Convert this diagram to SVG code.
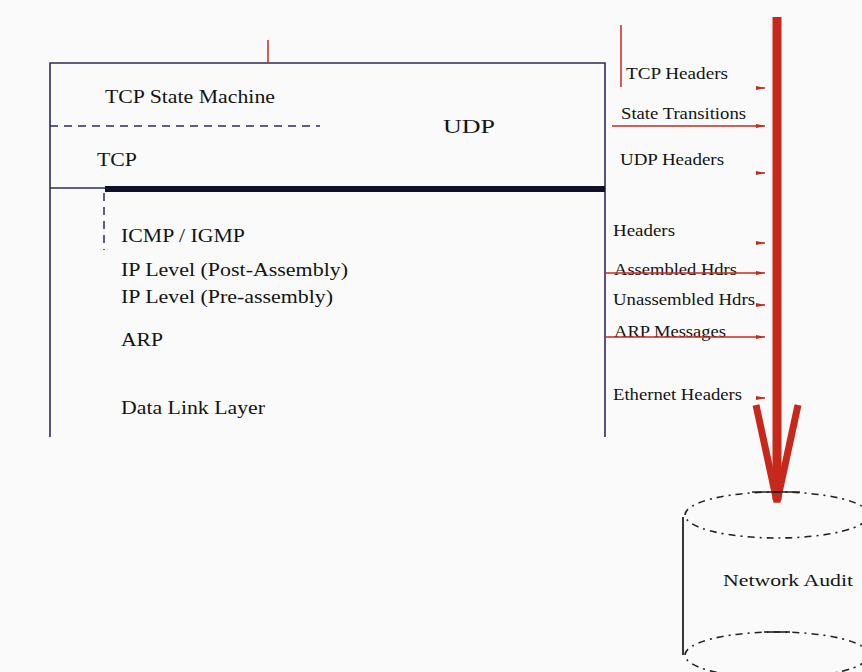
<svg xmlns="http://www.w3.org/2000/svg" width="862" height="672" viewBox="0 0 862 672">
<style>
.box{fill:none;stroke:#2c2c5c;stroke-width:1.6}
.lt{font-family:"Liberation Serif","Times New Roman",serif;font-size:19px;fill:#141414}
.rt{font-family:"Liberation Serif","Times New Roman",serif;font-size:16px;fill:#141414}
.red{stroke:#c8281c;fill:none}
.dash{stroke:#2c2c5c;stroke-width:1.5;stroke-dasharray:8 6;fill:none}
.cyl{fill:none;stroke:#222;stroke-width:1.6;stroke-dasharray:2 5 7 5}
</style>
<defs>
<marker id="tip" markerWidth="10" markerHeight="6" refX="9" refY="3" orient="auto" markerUnits="userSpaceOnUse">
<polygon points="0,1 9,3 0,5" fill="#c8281c"/>
</marker>
</defs>
<rect width="862" height="672" fill="#f9faf9"/>
<g id="stack">
<path class="box" d="M50,437 V63 H605 V437"/>
<line x1="50" y1="188" x2="105" y2="188" stroke="#2c2c5c" stroke-width="1.6"/>
<line x1="105" y1="189" x2="605" y2="189" stroke="#10102a" stroke-width="6"/>
<line class="dash" x1="50" y1="126" x2="320" y2="126"/>
<line class="dash" x1="104" y1="193" x2="104" y2="250"/>
<text class="lt" x="105" y="103" textLength="170" lengthAdjust="spacingAndGlyphs">TCP State Machine</text>
<text class="lt" x="97" y="166" textLength="40" lengthAdjust="spacingAndGlyphs">TCP</text>
<text class="lt" x="443" y="133" textLength="52" lengthAdjust="spacingAndGlyphs">UDP</text>
<text class="lt" x="121" y="242" textLength="124" lengthAdjust="spacingAndGlyphs">ICMP / IGMP</text>
<text class="lt" x="121" y="276" textLength="227" lengthAdjust="spacingAndGlyphs">IP Level (Post-Assembly)</text>
<text class="lt" x="121" y="303" textLength="212" lengthAdjust="spacingAndGlyphs">IP Level (Pre-assembly)</text>
<text class="lt" x="121" y="346" textLength="42" lengthAdjust="spacingAndGlyphs">ARP</text>
<text class="lt" x="121" y="414" textLength="144" lengthAdjust="spacingAndGlyphs">Data Link Layer</text>
</g>
<g id="labels">
<text class="rt" x="626" y="79" textLength="102" lengthAdjust="spacingAndGlyphs">TCP Headers</text>
<text class="rt" x="621" y="119" textLength="125" lengthAdjust="spacingAndGlyphs">State Transitions</text>
<text class="rt" x="620" y="165" textLength="104" lengthAdjust="spacingAndGlyphs">UDP Headers</text>
<text class="rt" x="613" y="236" textLength="62" lengthAdjust="spacingAndGlyphs">Headers</text>
<text class="rt" x="614" y="275" textLength="123" lengthAdjust="spacingAndGlyphs">Assembled Hdrs</text>
<text class="rt" x="613" y="305" textLength="142" lengthAdjust="spacingAndGlyphs">Unassembled Hdrs</text>
<text class="rt" x="614" y="337" textLength="112" lengthAdjust="spacingAndGlyphs">ARP Messages</text>
<text class="rt" x="613" y="400" textLength="129" lengthAdjust="spacingAndGlyphs">Ethernet Headers</text>
</g>
<g id="connectors">
<line class="red" x1="268" y1="40" x2="268" y2="63" stroke-width="1.5"/>
<line class="red" x1="621" y1="25" x2="621" y2="87" stroke-width="1.5"/>
<line class="red" x1="612" y1="126" x2="765" y2="126" stroke-width="1.5" marker-end="url(#tip)"/>
<line class="red" x1="605" y1="273" x2="765" y2="273" stroke-width="1.5" marker-end="url(#tip)"/>
<line class="red" x1="605" y1="337" x2="765" y2="337" stroke-width="1.5" marker-end="url(#tip)"/>
<line class="red" x1="756" y1="88" x2="765" y2="88" stroke-width="1.5" marker-end="url(#tip)"/>
<line class="red" x1="756" y1="173" x2="765" y2="173" stroke-width="1.5" marker-end="url(#tip)"/>
<line class="red" x1="756" y1="243" x2="765" y2="243" stroke-width="1.5" marker-end="url(#tip)"/>
<line class="red" x1="756" y1="305" x2="765" y2="305" stroke-width="1.5" marker-end="url(#tip)"/>
<line class="red" x1="756" y1="398" x2="765" y2="398" stroke-width="1.5" marker-end="url(#tip)"/>
<line class="red" x1="777" y1="17" x2="777" y2="500" stroke-width="9"/>
<polyline class="red" points="756,405 777,502 798,405" stroke-width="7" stroke-linejoin="miter"/>
</g>
<g id="network-audit">
<ellipse class="cyl" cx="777" cy="515" rx="92" ry="23"/>
<line x1="752" y1="492" x2="800" y2="492" stroke="#222" stroke-width="1.6"/>
<line x1="683" y1="517" x2="683" y2="655" stroke="#222" stroke-width="1.8"/>
<ellipse class="cyl" cx="777" cy="655" rx="92" ry="23"/>
<line x1="764" y1="632" x2="790" y2="632" stroke="#222" stroke-width="1.6"/>
<text class="rt" x="723" y="586" font-size="17" textLength="130" lengthAdjust="spacingAndGlyphs">Network Audit</text>
</g>
</svg>
